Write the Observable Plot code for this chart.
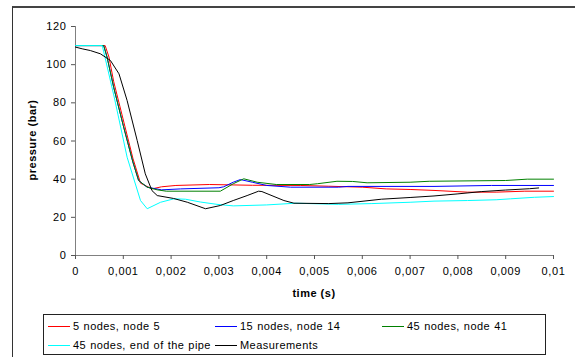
<!DOCTYPE html>
<html><head><meta charset="utf-8">
<script src="https://cdn.jsdelivr.net/npm/d3@7"></script>
<script src="https://cdn.jsdelivr.net/npm/@observablehq/plot@0.6"></script>
<style>
body{margin:0;background:#fff;}
#wrap{position:relative;width:575px;height:357px;overflow:hidden;font-family:"Liberation Sans",Arial,sans-serif;color:#000;}
#frame{position:absolute;left:12px;top:6px;width:700px;height:400px;border-left:1px solid #333;border-top:2px solid #444;}
#chart{position:absolute;left:0;top:0;}
#chart svg text{letter-spacing:0.6px;}
.axlab{position:absolute;font-weight:bold;font-size:11px;letter-spacing:0.5px;white-space:nowrap;}
#legend{position:absolute;left:43px;top:314px;width:503px;height:41px;border:1px solid #222;box-sizing:border-box;background:#fff;}
.item{position:absolute;height:16px;font-size:11px;letter-spacing:0.45px;word-spacing:0.5px;white-space:nowrap;line-height:16px;}
.item .sw{display:inline-block;width:22px;height:1px;vertical-align:middle;margin-right:3px;position:relative;top:-1px;}
</style></head>
<body><div id="wrap"><div id="frame"></div><div id="chart"></div>
<div class="axlab" id="xlab">time (s)</div>
<div class="axlab" id="ylab">pressure (bar)</div>
<div id="legend"></div></div>
<script>
const seriesNames = ["5 nodes, node 5","15 nodes, node 14","45 nodes, node 41","45 nodes, end of the pipe","Measurements"];
const seriesColors = ["#ff0000","#0000ff","#008000","#00ffff","#000000"];
const xTicks = [0,0.001,0.002,0.003,0.004,0.005,0.006,0.007,0.008,0.009,0.01];
const yTicks = [0,20,40,60,80,100,120];

const redT = [0,0.00062,0.0007,0.0008,0.001,0.0012,0.00136,0.0016,0.0018,0.0021,0.0028,0.0037,0.0047,0.0053,0.006,0.0065,0.007,0.0075,0.0082,0.0088,0.0094,0.01];
const redP = [110,110,104,91,71,51,37.9,34.9,36,36.7,37.2,36.8,36.7,36.3,35.8,34.9,34.6,34.1,33.2,33.2,33.7,33.7];
const blueT = [0,0.00059,0.00066,0.0008,0.001,0.0012,0.00132,0.0015,0.0018,0.0022,0.003,0.0031,0.0033,0.00345,0.0037,0.004,0.0045,0.0055,0.0057,0.0075,0.0087,0.01];
const blueP = [110,110,104,88,68,49,39.3,35.8,34.4,34.9,35.5,36,38.4,39.8,38.4,36.7,35.8,35.8,36.2,36.2,36.7,36.7];
const greenT = [0,0.00059,0.00066,0.0008,0.001,0.0012,0.00132,0.0015,0.00171,0.0019,0.00303,0.0033,0.00352,0.0038,0.0042,0.0049,0.00506,0.00547,0.0058,0.0061,0.007,0.0074,0.009,0.00945,0.01];
const greenP = [110,110,104,88,68,49,39.3,35.8,34.4,33.7,33.7,37.6,40.2,38.4,37.2,37.2,37.6,38.9,38.8,38.1,38.4,38.9,39.3,40,40];
const cyanT = [0,0.00056,0.00081,0.00108,0.00136,0.0015,0.00178,0.00206,0.0023,0.00262,0.00296,0.0033,0.004,0.0046,0.0055,0.0062,0.007,0.0075,0.0082,0.0088,0.0091,0.0096,0.01];
const cyanP = [110,110,83,51.5,28.8,24.5,27.9,29.7,29.5,28,26.8,26,26.5,27.4,26.8,27.2,27.9,28.5,28.8,29.2,29.7,30.5,30.9];
const measT = [0,0.00014,0.00031,0.00052,0.00073,0.00091,0.00108,0.00129,0.00146,0.0016,0.00171,0.00205,0.00234,0.00272,0.00303,0.0033,0.00359,0.00383,0.0039,0.00436,0.00457,0.0053,0.0057,0.0064,0.007,0.0075,0.008,0.0085,0.009,0.0095,0.00969];
const measP = [109.2,108.3,107.4,105.7,102.2,95.2,81.2,60.3,42.8,34,31.4,29.9,27.9,24.5,26.2,28.8,31.4,33.7,33.5,28.8,27.4,27.2,27.6,29.5,30.4,31.2,32.3,33.5,34.3,35,35.4];

const allT = [redT, blueT, greenT, cyanT, measT];
const allP = [redP, blueP, greenP, cyanP, measP];
const data = [];
allT.forEach((ts, i) => ts.forEach((t, j) => data.push({t, p: allP[i][j], s: seriesNames[i]})));

const fmt = d => d === 0 ? "0" : String(d).replace(".", ",");

const chart = Plot.plot({
  width: 575, height: 310,
  marginLeft: 75, marginRight: 22, marginTop: 26, marginBottom: 55,
  style: {fontFamily: '"Liberation Sans", Arial, sans-serif', fontSize: "11px", color: "#000", background: "transparent"},
  x: {domain: [0, 0.01]},
  y: {domain: [0, 120]},
  color: {domain: seriesNames, range: seriesColors},
  marks: [
    Plot.ruleX([0], {stroke: "#808080"}),
    Plot.ruleY([0], {stroke: "#808080"}),
    Plot.axisY({ticks: yTicks, tickSize: 4, tickPadding: 5, label: null, stroke: "#555"}),
    Plot.axisX({ticks: xTicks, tickSize: 4, tickPadding: 8, tickFormat: fmt, label: null, stroke: "#555"}),
    Plot.line(data, {x: "t", y: "p", z: "s", stroke: "s", strokeWidth: 1})
  ]
});
document.getElementById("chart").appendChild(chart);

const xl = document.getElementById("xlab");
xl.style.left = "314px"; xl.style.top = "287px"; xl.style.transform = "translateX(-50%)";
const yl = document.getElementById("ylab");
yl.style.left = "32px"; yl.style.top = "140px"; yl.style.transform = "translate(-50%,-50%) rotate(-90deg)";

const legend = document.getElementById("legend");
const pos = [[4,3],[171,3],[338,3],[4,22],[171,22]];
seriesNames.forEach((n, i) => {
  const d = document.createElement("div");
  d.className = "item";
  d.style.left = pos[i][0] + "px"; d.style.top = pos[i][1] + "px";
  const sw = document.createElement("span");
  sw.className = "sw"; sw.style.background = seriesColors[i];
  d.appendChild(sw);
  d.appendChild(document.createTextNode(n));
  legend.appendChild(d);
});
</script></body></html>
